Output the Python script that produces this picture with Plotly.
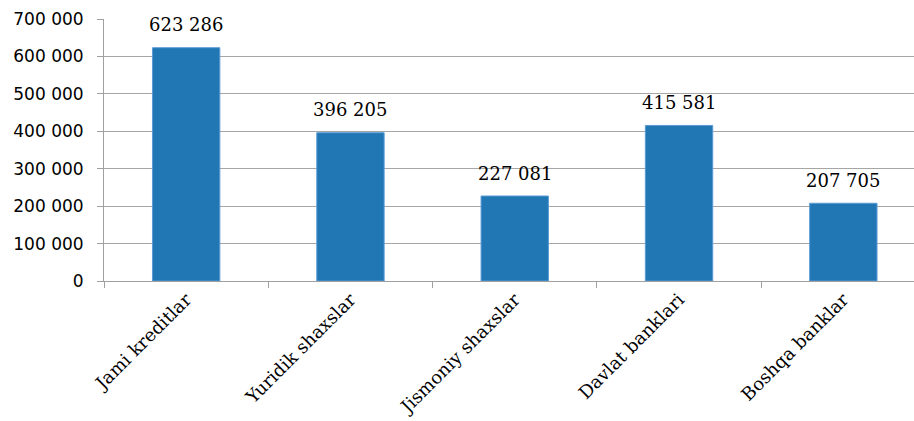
import plotly.graph_objects as go

categories = ["Jami kreditlar", "Yuridik shaxslar", "Jismoniy shaxslar", "Davlat banklari", "Boshqa banklar"]
values = [623286, 396205, 227081, 415581, 207705]
y_ticks = [0, 100000, 200000, 300000, 400000, 500000, 600000, 700000]

serif = "DejaVu Serif, Liberation Serif, serif"
sans = "DejaVu Sans, sans-serif"

fig = go.Figure(go.Bar(
    x=categories,
    y=values,
    width=0.41,
    marker=dict(color="#2176B4", line=dict(color="#5B9BD5", width=1)),
))

for c, v in zip(categories, values):
    fig.add_annotation(
        x=c, y=v,
        text=f"{v:,}".replace(",", " "),
        showarrow=False,
        yanchor="middle",
        yshift=23,
        font=dict(family=serif, size=18, color="#000000"),
    )

fig.update_layout(
    width=914,
    height=421,
    margin=dict(l=104, r=0, t=19, b=140),
    paper_bgcolor="white",
    plot_bgcolor="white",
    separators=", ",
    showlegend=False,
    font=dict(family=serif, size=18, color="#000000"),
)

fig.update_xaxes(
    range=[-0.5, 4.43],
    tickangle=-45,
    tickson="boundaries",
    ticks="outside",
    ticklen=6,
    tickcolor="#A0A0A0",
    showline=True,
    linecolor="#A0A0A0",
    linewidth=1,
    showgrid=False,
    tickfont=dict(family=serif, size=18, color="#000000"),
)

fig.update_yaxes(
    range=[0, 700000],
    tickvals=y_ticks,
    tickformat=",d",
    ticks="outside",
    ticklen=6,
    tickcolor="#A0A0A0",
    ticklabelstandoff=10,
    showline=True,
    linecolor="#A0A0A0",
    linewidth=1,
    showgrid=True,
    gridcolor="#A6A6A6",
    gridwidth=1,
    zeroline=False,
    tickfont=dict(family=sans, size=17, color="#000000"),
)

fig.write_html("out.html")
